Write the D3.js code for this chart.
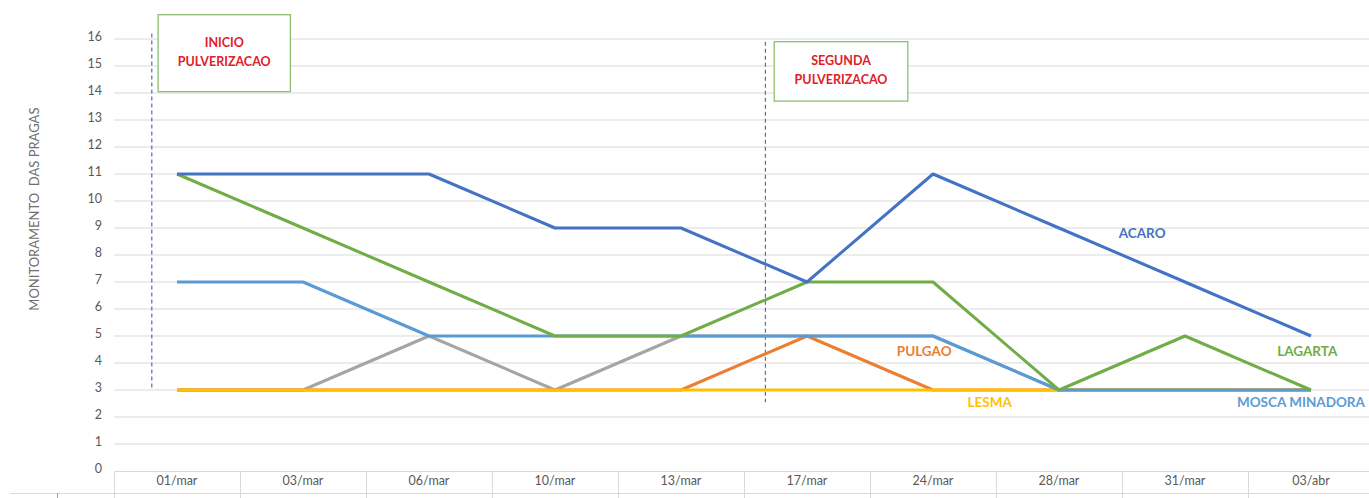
<!DOCTYPE html>
<html>
<head>
<meta charset="utf-8">
<script src="https://cdn.jsdelivr.net/npm/d3@7.9.0/dist/d3.min.js"></script>
<style>
  body { margin: 0; background: #fff; }
  svg { display: block; font-family: Lato, "Open Sans", sans-serif; }
</style>
</head>
<body>
<svg id="chart" width="1369" height="498"></svg>
<script>
// dates of monitoring
const dates = ['01/mar', '03/mar', '06/mar', '10/mar', '13/mar', '17/mar', '24/mar', '28/mar', '31/mar', '03/abr'];

// pest counts per date
const outros  = [3, 3, 5, 3, 5, 5, 5, 3, 3, 3];
const pulgao  = [3, 3, 3, 3, 3, 5, 3, 3, 3, 3];
const lesma   = [3, 3, 3, 3, 3, 3, 3, 3, 3, 3];
const mosca   = [7, 7, 5, 5, 5, 5, 5, 3, 3, 3];
const lagarta = [11, 9, 7, 5, 5, 7, 7, 3, 5, 3];
const acaro   = [11, 11, 11, 9, 9, 7, 11, 9, 7, 5];

const yTicks = d3.range(0, 17);

// drawing order = bottom to top
const series = [
  { name: 'OUTROS', values: outros, color: '#A5A5A5' },
  { name: 'PULGAO', values: pulgao, color: '#ED7D31' },
  { name: 'LESMA', values: lesma, color: '#FFC000' },
  { name: 'MOSCA MINADORA', values: mosca, color: '#5B9BD5' },
  { name: 'LAGARTA', values: lagarta, color: '#70AD47' },
  { name: 'ACARO', values: acaro, color: '#4472C4' }
];

// end labels: index position + value position
const labels = [
  { text: 'ACARO', at: 7.66, v: 8.75, color: '#4472C4' },
  { text: 'PULGAO', at: 5.93, v: 4.4, color: '#ED7D31' },
  { text: 'LAGARTA', at: 8.97, v: 4.4, color: '#70AD47' },
  { text: 'LESMA', at: 6.45, v: 2.5, color: '#FFC000' },
  { text: 'MOSCA MINADORA', at: 8.92, v: 2.5, color: '#5B9BD5' }
];

// spraying markers
const sprays = [
  { at: -0.2, top: 16.2, bottom: 3, box: [-0.15, 0.9, 16.9, 14.05], lines: ['INICIO', 'PULVERIZACAO'] },
  { at: 4.67, top: 15.9, bottom: 2.55, box: [4.74, 5.8, 15.9, 13.7], lines: ['SEGUNDA', 'PULVERIZACAO'] }
];

const svg = d3.select('#chart');
const left = 114, right = 1374, y0 = 471, y16 = 39;

const x = d3.scaleBand().domain(dates).range([left, right]);
const xi = d3.scaleLinear().domain([-0.5, dates.length - 0.5]).range([left, right]);
const y = d3.scaleLinear().domain([0, 16]).range([y0, y16]);

// gridlines
svg.append('g').selectAll('line').data(yTicks.filter(d => d > 0)).join('line')
  .attr('x1', left).attr('x2', 1369)
  .attr('y1', d => y(d)).attr('y2', d => y(d))
  .attr('stroke', '#D9D9D9').attr('stroke-width', 1);

// y tick labels
svg.append('g').selectAll('text').data(yTicks).join('text')
  .attr('x', 102).attr('y', d => y(d) - 1)
  .attr('text-anchor', 'end').attr('dominant-baseline', 'middle')
  .attr('font-size', 12.5).attr('fill', '#595959')
  .text(d => d);

// y title
svg.append('text')
  .attr('transform', `translate(36,${y(9.7)}) rotate(-90)`)
  .attr('text-anchor', 'middle').attr('dominant-baseline', 'middle')
  .attr('font-size', 13).attr('fill', '#707070')
  .attr('xml:space', 'preserve')
  .text('MONITORAMENTO  DAS PRAGAS');

// data table axis
const tbl = svg.append('g').attr('stroke', '#D9D9D9').attr('stroke-width', 1);
tbl.append('line').attr('x1', left).attr('x2', 1369).attr('y1', y0 + 0.5).attr('y2', y0 + 0.5);
tbl.append('line').attr('x1', 10).attr('x2', 1369).attr('y1', 493.5).attr('y2', 493.5);
tbl.selectAll('.div').data(dates).join('line')
  .attr('x1', d => Math.round(x(d)) + 0.5).attr('x2', d => Math.round(x(d)) + 0.5)
  .attr('y1', y0).attr('y2', 498);
tbl.append('line').attr('x1', 57.5).attr('x2', 57.5).attr('y1', 493).attr('y2', 498).attr('stroke', '#A0A0A0');

svg.append('g').selectAll('text').data(dates).join('text')
  .attr('x', d => x(d) + x.bandwidth() / 2).attr('y', 482)
  .attr('text-anchor', 'middle').attr('dominant-baseline', 'middle')
  .attr('font-size', 12.5).attr('fill', '#595959')
  .text(d => d);

// spray markers
sprays.forEach(s => {
  svg.append('line')
    .attr('x1', xi(s.at)).attr('x2', xi(s.at))
    .attr('y1', y(s.top)).attr('y2', y(s.bottom))
    .attr('stroke', '#4F6FAE').attr('stroke-width', 1.2)
    .attr('stroke-dasharray', '4,3');
  const [b0, b1, v0, v1] = s.box;
  svg.append('rect')
    .attr('x', xi(b0)).attr('y', y(v0))
    .attr('width', xi(b1) - xi(b0)).attr('height', y(v1) - y(v0))
    .attr('fill', '#fff').attr('stroke', '#8DBF6E').attr('stroke-width', 1.3);
  const cx = (xi(b0) + xi(b1)) / 2, cy = (y(v0) + y(v1)) / 2;
  s.lines.forEach((t, i) => {
    svg.append('text')
      .attr('x', cx).attr('y', cy + (i - 0.5) * 19)
      .attr('text-anchor', 'middle').attr('dominant-baseline', 'middle')
      .attr('font-size', 12.5).attr('font-weight', 'bold').attr('fill', '#E0202A')
      .text(t);
  });
});

// lines
const line = d3.line()
  .x((d, i) => x(dates[i]) + x.bandwidth() / 2)
  .y(d => y(d));

svg.append('g').selectAll('path').data(series).join('path')
  .attr('d', d => line(d.values))
  .attr('fill', 'none')
  .attr('stroke', d => d.color)
  .attr('stroke-width', 3)
  .attr('stroke-linejoin', 'round');

// series labels
svg.append('g').selectAll('text').data(labels).join('text')
  .attr('x', d => xi(d.at)).attr('y', d => y(d.v))
  .attr('text-anchor', 'middle').attr('dominant-baseline', 'middle')
  .attr('font-size', 13.5).attr('font-weight', 'bold')
  .attr('fill', d => d.color)
  .text(d => d.text);
</script>
</body>
</html>
